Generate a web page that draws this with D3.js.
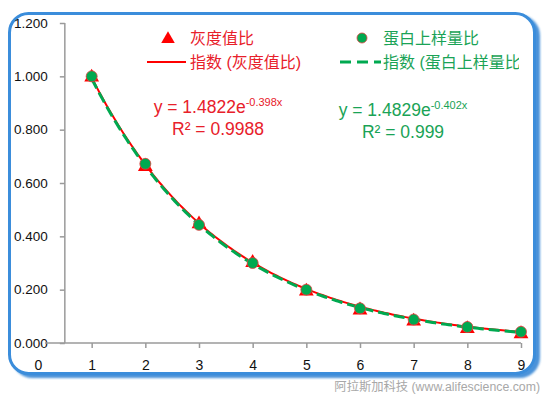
<!DOCTYPE html>
<html>
<head>
<meta charset="utf-8">
<script src="https://cdn.jsdelivr.net/npm/d3@7"></script>
<style>
  body { margin: 0; background: #fff; }
  svg text { font-family: "Liberation Sans", Arial, "Noto Sans CJK SC", sans-serif; }
</style>
</head>
<body>
<div id="chart"></div>
<script>
// data
var xs = [1, 2, 3, 4, 5, 6, 7, 8, 9];
var grayRatio = [1.000, 0.665, 0.450, 0.305, 0.198, 0.127, 0.085, 0.057, 0.038];
var proteinRatio = [1.000, 0.672, 0.443, 0.300, 0.200, 0.130, 0.088, 0.060, 0.042];
var yTicks = [0, 0.2, 0.4, 0.6, 0.8, 1.0, 1.2];
var xTicks = [0, 1, 2, 3, 4, 5, 6, 7, 8, 9];
// exponential trendline coefficients shown on the chart
var grayFit = [1.4822, -0.398];
var proteinFit = [1.4829, -0.402];
var seriesNames = ["灰度值比", "蛋白上样量比"];
var fitNames = ["指数 (灰度值比)", "指数 (蛋白上样量比)"];

var width = 550, height = 395;
var red = "#ff0000", green = "#00a950";

var svg = d3.select("#chart").append("svg")
  .attr("width", width)
  .attr("height", height);

var defs = svg.append("defs");
var f = defs.append("filter").attr("id", "shadow").attr("x", "-5%").attr("y", "-5%").attr("width", "112%").attr("height", "112%");
f.append("feGaussianBlur").attr("in", "SourceAlpha").attr("stdDeviation", 1.2).attr("result", "b");
f.append("feOffset").attr("in", "b").attr("dx", 4).attr("dy", 3).attr("result", "o");
f.append("feFlood").attr("flood-color", "#2a7fd2").attr("flood-opacity", 0.85);
f.append("feComposite").attr("in2", "o").attr("operator", "in").attr("result", "s");
var fm = f.append("feMerge");
fm.append("feMergeNode").attr("in", "s");
fm.append("feMergeNode").attr("in", "SourceGraphic");

// frame
svg.append("rect")
  .attr("x", 9.5).attr("y", 13.5)
  .attr("width", 525).attr("height", 360)
  .attr("rx", 19).attr("ry", 19)
  .attr("fill", "#fff")
  .attr("stroke", "#3a8ddb")
  .attr("stroke-width", 3)
  .attr("filter", "url(#shadow)");

var x = d3.scaleLinear().domain([0, 9]).range([38, 521]);
var y = d3.scaleLinear().domain([0, 1.2]).range([343, 23]);

var axisColor = "#9a9a9a";

// y axis at x = 0.5
var yAxis = svg.append("g")
  .attr("transform", "translate(" + x(0.5) + ",0)")
  .call(d3.axisLeft(y).tickValues(yTicks).tickSize(5).tickPadding(12).tickFormat(d3.format(".3f")));
yAxis.select(".domain").remove();
yAxis.append("line").attr("y1", y(0)).attr("y2", y(1.2)).attr("stroke", axisColor).attr("stroke-width", 1.5);
yAxis.selectAll(".tick line").attr("stroke", axisColor).attr("stroke-width", 1.5);
yAxis.selectAll(".tick text").attr("fill", "#111").style("font-size", "13.5px");

// x axis
var xAxis = svg.append("g")
  .attr("transform", "translate(0," + y(0) + ")")
  .call(d3.axisBottom(x).tickValues(xTicks).tickSize(5).tickPadding(12));
xAxis.select(".domain").remove();
xAxis.append("line").attr("x1", x(0.13)).attr("x2", x(9)).attr("stroke", axisColor).attr("stroke-width", 1.5);
xAxis.selectAll(".tick line").attr("stroke", axisColor).attr("stroke-width", 1.5)
  .attr("display", function(d) { return d === 0 ? "none" : null; });
xAxis.selectAll(".tick text").attr("fill", "#111").style("font-size", "14px");

// trendlines
function fitCurve(c) {
  return d3.range(1, 9.001, 0.05).map(function(t) { return [t, c[0] * Math.exp(c[1] * t)]; });
}
var line = d3.line().x(function(d) { return x(d[0]); }).y(function(d) { return y(d[1]); });

svg.append("path").datum(fitCurve(grayFit))
  .attr("d", line).attr("fill", "none").attr("stroke", red).attr("stroke-width", 2);
svg.append("path").datum(fitCurve(proteinFit))
  .attr("d", line).attr("fill", "none").attr("stroke", green).attr("stroke-width", 3)
  .attr("stroke-dasharray", "11,5");

// markers
var tri = d3.symbol().type(d3.symbolTriangle).size(95);
svg.selectAll(".tri").data(xs).enter().append("path")
  .attr("class", "tri")
  .attr("d", tri)
  .attr("transform", function(d, i) { return "translate(" + x(d) + "," + (y(grayRatio[i]) + 1) + ")"; })
  .attr("fill", red);
svg.selectAll(".dot").data(xs).enter().append("circle")
  .attr("class", "dot")
  .attr("cx", function(d) { return x(d); })
  .attr("cy", function(d, i) { return y(proteinRatio[i]); })
  .attr("r", 5.5)
  .attr("fill", green)
  .attr("stroke", "#e04040")
  .attr("stroke-width", 0.8);

// legend
var lg = svg.append("g").style("font-size", "16px");
lg.append("path").attr("d", d3.symbol().type(d3.symbolTriangle).size(80))
  .attr("transform", "translate(168,39)").attr("fill", red);
lg.append("text").attr("x", 190).attr("y", 44).attr("fill", "#e8202a").text(seriesNames[0]);
lg.append("circle").attr("cx", 362).attr("cy", 38).attr("r", 5).attr("fill", green).attr("stroke", "#e04040").attr("stroke-width", 0.8);
lg.append("text").attr("x", 383).attr("y", 44).attr("fill", "#1aa356").text(seriesNames[1]);
lg.append("line").attr("x1", 147).attr("x2", 186).attr("y1", 62).attr("y2", 62).attr("stroke", red).attr("stroke-width", 2);
lg.append("text").attr("x", 190).attr("y", 68).attr("fill", "#e8202a").text(fitNames[0]);
lg.append("line").attr("x1", 340).attr("x2", 381).attr("y1", 62).attr("y2", 62).attr("stroke", green).attr("stroke-width", 3).attr("stroke-dasharray", "11,6");
svg.append("clipPath").attr("id", "lgclip").append("rect").attr("x", 0).attr("y", 0).attr("width", 519).attr("height", 395);
lg.append("text").attr("x", 383).attr("y", 68).attr("fill", "#1aa356").attr("clip-path", "url(#lgclip)").text(fitNames[1]);

// equations
function equation(cx, cy, c, r2, color) {
  var g = svg.append("g").attr("fill", color).style("font-size", "17.5px");
  var t = g.append("text").attr("x", cx).attr("y", cy).attr("text-anchor", "middle");
  t.append("tspan").text("y = " + c[0].toFixed(4) + "e");
  t.append("tspan").attr("dy", -7).style("font-size", "11px").text(c[1].toFixed(3).replace(/0+$/, "") + "x");
  g.append("text").attr("x", cx).attr("y", cy + 22).attr("text-anchor", "middle").text("R² = " + r2);
}
equation(218, 113, grayFit, "0.9988", "#e8202a");
equation(403, 116, proteinFit, "0.999", "#1aa356");

// watermark
svg.append("text").attr("x", 540).attr("y", 391).attr("text-anchor", "end")
  .attr("fill", "#a8a8a8").style("font-size", "12.3px")
  .text("阿拉斯加科技 (www.alifescience.com)");
</script>
</body>
</html>
